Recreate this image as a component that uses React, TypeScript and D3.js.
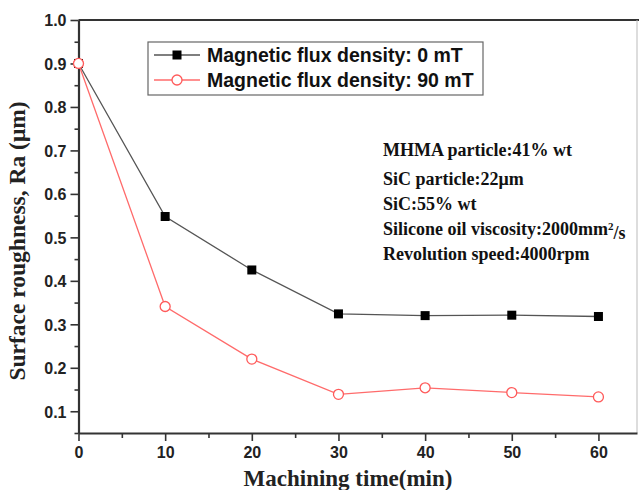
import React, { useEffect, useRef } from "react";
import * as d3 from "d3";

const W = 639;
const H = 490;

const times = [0, 10, 20, 30, 40, 50, 60];
const ra0mT = [0.9, 0.548, 0.425, 0.324, 0.32, 0.321, 0.318];
const ra90mT = [0.9, 0.341, 0.22, 0.139, 0.154, 0.143, 0.133];
const seriesNames = ["Magnetic flux density: 0 mT", "Magnetic flux density: 90 mT"];
const yTicks = [0.1, 0.2, 0.3, 0.4, 0.5, 0.6, 0.7, 0.8, 0.9, 1.0];
const xTicks = [0, 10, 20, 30, 40, 50, 60];
const noteLines = [
  "MHMA particle:41% wt",
  "SiC particle:22\u03bcm",
  "SiC:55% wt",
  "Silicone oil viscosity:2000mm\u00b2/s",
  "Revolution speed:4000rpm",
];

export default function App() {
  const ref = useRef<SVGSVGElement>(null);

  useEffect(() => {
    const svg = d3.select(ref.current);
    svg.selectAll("*").remove();

    const left = 78.5;
    const right = 637;
    const top = 20;
    const bottom = 433;

    const x = d3.scaleLinear().domain([0, 64.45]).range([left, right]);
    const y = d3.scaleLinear().domain([0.05, 1.0]).range([bottom, top]);

    svg.append("rect").attr("width", W).attr("height", H).attr("fill", "#fff");

    // frame
    svg.append("path")
      .attr("d", `M${left},${top}H${W}`)
      .attr("fill", "none")
      .attr("stroke", "#333")
      .attr("stroke-width", 2);
    svg.append("path")
      .attr("d", `M${right},${top}V${bottom}`)
      .attr("fill", "none")
      .attr("stroke", "#bbb")
      .attr("stroke-width", 1);

    // y axis
    const yAxis = d3.axisLeft(y)
      .tickValues(d3.range(0.05, 1.0001, 0.05))
      .tickSize(0)
      .tickFormat(() => "");
    const gy = svg.append("g").attr("transform", `translate(${left},0)`).call(yAxis);
    gy.select(".domain").attr("stroke", "#333").attr("stroke-width", 2.2);
    gy.selectAll(".tick").each(function (d: any) {
      const isMajor = yTicks.some((t) => Math.abs(t - d) < 1e-6);
      d3.select(this).append("line")
        .attr("x1", 0).attr("x2", isMajor ? -8 : -4)
        .attr("stroke", "#333").attr("stroke-width", 1.6);
      if (isMajor) {
        d3.select(this).append("text")
          .attr("x", -12).attr("dy", "0.36em")
          .attr("text-anchor", "end")
          .attr("font-family", "Liberation Sans, Arial, sans-serif")
          .attr("font-weight", "bold").attr("font-size", 16)
          .attr("fill", "#222")
          .text(d3.format(".1f")(d));
      }
    });

    // x axis
    const xAxis = d3.axisBottom(x)
      .tickValues(d3.range(0, 64.01, 5))
      .tickSize(0)
      .tickFormat(() => "");
    const gx = svg.append("g").attr("transform", `translate(0,${bottom})`).call(xAxis);
    gx.select(".domain").attr("stroke", "#333").attr("stroke-width", 2.2);
    gx.selectAll(".tick").each(function (d: any) {
      const isMajor = xTicks.includes(d);
      d3.select(this).append("line")
        .attr("y1", 0).attr("y2", isMajor ? 8 : 5)
        .attr("stroke", "#333").attr("stroke-width", 1.6);
      if (isMajor) {
        d3.select(this).append("text")
          .attr("y", 25)
          .attr("text-anchor", "middle")
          .attr("font-family", "Liberation Sans, Arial, sans-serif")
          .attr("font-weight", "bold").attr("font-size", 16)
          .attr("fill", "#222")
          .text(d);
      }
    });

    // axis titles
    svg.append("text")
      .attr("transform", `translate(25,${241}) rotate(-90)`)
      .attr("text-anchor", "middle")
      .attr("font-family", "Liberation Serif, Times New Roman, serif")
      .attr("font-weight", "bold").attr("font-size", 23.5)
      .attr("fill", "#222")
      .text("Surface roughness, Ra (\u03bcm)");
    svg.append("text")
      .attr("x", 348).attr("y", 486)
      .attr("text-anchor", "middle")
      .attr("font-family", "Liberation Serif, Times New Roman, serif")
      .attr("font-weight", "bold").attr("font-size", 23)
      .attr("fill", "#222")
      .text("Machining time(min)");

    const line = d3.line<number>()
      .x((_, i) => x(times[i]))
      .y((d) => y(d));

    // series lines
    svg.append("path").datum(ra0mT).attr("d", line)
      .attr("fill", "none").attr("stroke", "#555").attr("stroke-width", 1.3);
    svg.append("path").datum(ra90mT).attr("d", line)
      .attr("fill", "none").attr("stroke", "#ff6b6b").attr("stroke-width", 1.3);

    // markers
    svg.append("g").selectAll("rect").data(ra0mT).join("rect")
      .attr("x", (_, i) => x(times[i]) - 4.5)
      .attr("y", (d) => y(d) - 4.5)
      .attr("width", 9).attr("height", 9)
      .attr("fill", "#000");
    svg.append("g").selectAll("circle").data(ra90mT).join("circle")
      .attr("cx", (_, i) => x(times[i]))
      .attr("cy", (d) => y(d))
      .attr("r", 5)
      .attr("fill", "#fff").attr("stroke", "#ff5a5a").attr("stroke-width", 1.3);

    // legend
    const lg = svg.append("g");
    lg.append("rect")
      .attr("x", 148).attr("y", 42).attr("width", 335).attr("height", 53)
      .attr("fill", "#fff").attr("stroke", "#666").attr("stroke-width", 1.2);
    const rows = [55, 80];
    rows.forEach((ry, i) => {
      lg.append("line")
        .attr("x1", 154).attr("x2", 200).attr("y1", ry).attr("y2", ry)
        .attr("stroke", i === 0 ? "#555" : "#ff6b6b").attr("stroke-width", 1.3);
      if (i === 0) {
        lg.append("rect").attr("x", 172.5).attr("y", ry - 4.5)
          .attr("width", 9).attr("height", 9).attr("fill", "#000");
      } else {
        lg.append("circle").attr("cx", 177).attr("cy", ry).attr("r", 5)
          .attr("fill", "#fff").attr("stroke", "#ff5a5a").attr("stroke-width", 1.3);
      }
      lg.append("text")
        .attr("x", 207).attr("y", ry).attr("dy", "0.36em")
        .attr("font-family", "Liberation Sans, Arial, sans-serif")
        .attr("font-weight", "bold").attr("font-size", 19.5)
        .attr("fill", "#111")
        .text(seriesNames[i]);
    });

    // process parameter notes
    const noteY = [150, 179, 204, 229, 254];
    noteLines.forEach((t, i) => {
      const txt = svg.append("text")
        .attr("x", 383).attr("y", noteY[i]).attr("dy", "0.35em")
        .attr("font-family", "Liberation Serif, Times New Roman, serif")
        .attr("font-weight", "bold").attr("font-size", 18)
        .attr("fill", "#111");
      if (t.includes("\u00b2")) {
        const [a, b] = t.split("\u00b2");
        txt.append("tspan").text(a);
        txt.append("tspan").attr("dy", "-0.5em").attr("font-size", 11).text("2");
        txt.append("tspan").attr("dy", "0.5em").text(b);
      } else {
        txt.text(t);
      }
    });
  }, []);

  return (
    <svg
      ref={ref}
      width={W}
      height={H}
      style={{ position: "absolute", left: 0, top: 0, display: "block" }}
    />
  );
}
